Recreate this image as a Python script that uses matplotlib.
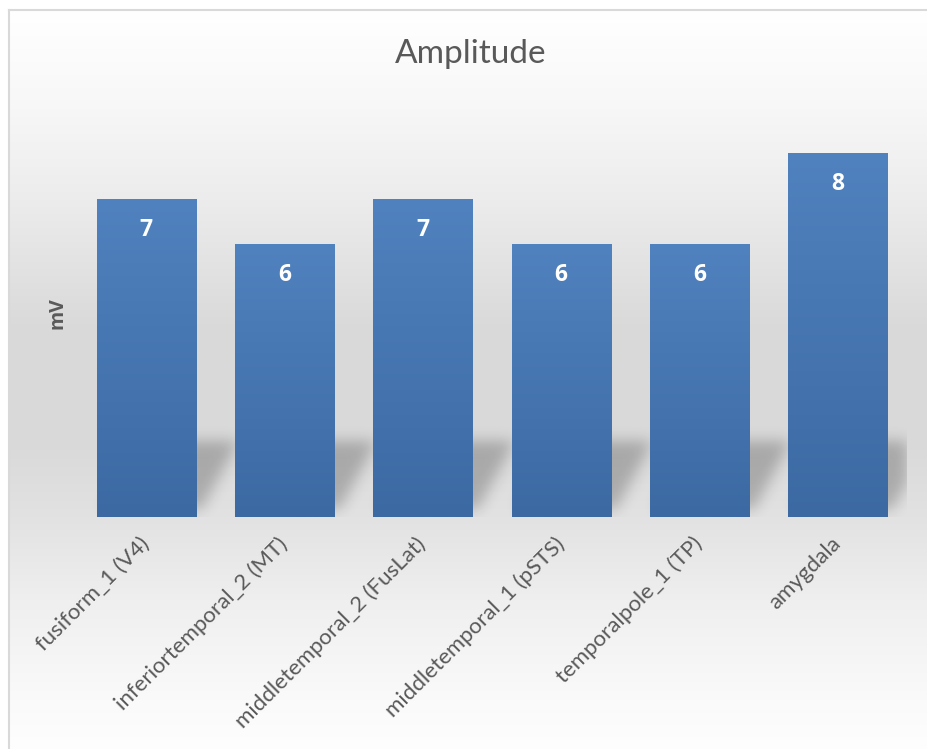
import numpy as np
import matplotlib
matplotlib.use("Agg")
import matplotlib.pyplot as plt
from matplotlib.path import Path

# amplitude per region (mV)
regions = ["fusiform_1 (V4)", "inferiortemporal_2 (MT)", "middletemporal_2 (FusLat)",
           "middletemporal_1 (pSTS)", "temporalpole_1 (TP)", "amygdala"]
amplitude = [7, 6, 7, 6, 6, 8]

FONT = "Lato"
BOLD_FONT = "Open Sans"
TXT = "#595959"
W, H = 927, 749
BAR_W = 0.716
YMAX = 9

fig = plt.figure(figsize=(W / 100, H / 100), dpi=100)

# chart area background: vertical grey gradient inside a thin frame
bg = fig.add_axes([0, 0, 1, 1])
bg.set_axis_off()
rows = np.arange(H)
stops_y = [10, 100, 200, 330, 450, 517, 600, 700, 749]
stops_v = [255, 248, 236, 217, 218, 226, 239, 250, 254]
shade = np.interp(rows, stops_y, stops_v) / 255.0
grad = np.repeat(shade[:, None, None], 3, axis=2)
bg.imshow(grad, extent=[9, W, H, 0], aspect="auto", interpolation="bilinear")
bg.plot([9, 9], [H, 10], color="#d9d9d9", lw=1.5)
bg.plot([9, W], [10, 10], color="#d9d9d9", lw=1.5)
bg.set_xlim(0, W)
bg.set_ylim(H, 0)

left, right, base = 77, 907, 517
px_per_unit = 45.4
top = base - YMAX * px_per_unit
ax = fig.add_axes([left / W, (H - base) / H, (right - left) / W, (base - top) / H])
ax.set_facecolor("none")
x = np.arange(len(regions))

# soft perspective shadow behind the bars
xpx = (right - left) / len(regions)
nx, ny = right - left, 120
gx = np.linspace(-0.5, 5.5, nx)
gy = np.linspace(0, ny / px_per_unit, ny)
GX, GY = np.meshgrid(gx, gy)
pts = np.column_stack([GX.ravel(), GY.ravel()])
mask = np.zeros(GX.shape)
for xi in x:
    x0, x1 = xi - BAR_W / 2, xi + BAR_W / 2
    yb, yt = 8 / px_per_unit, 76 / px_per_unit
    sb, st = 6 / xpx, 42 / xpx
    poly = Path([(x0 + sb, yb), (x1 + sb, yb), (x1 + st, yt), (x0 + st, yt)])
    mask = np.maximum(mask, poly.contains_points(pts).reshape(GX.shape))
k = np.arange(-24, 25)
kern = np.exp(-k ** 2 / (2 * 7.0 ** 2))
kern /= kern.sum()
mask = np.apply_along_axis(lambda r: np.convolve(r, kern, mode="same"), 1, mask)
mask = np.apply_along_axis(lambda c: np.convolve(c, kern, mode="same"), 0, mask)
shadow = np.zeros((ny, nx, 4))
shadow[..., 3] = 0.23 * mask
ax.imshow(shadow, extent=[-0.5, 5.5, 0, ny / px_per_unit], origin="lower",
          aspect="auto", zorder=1)

# bars with a top-to-bottom blue gradient
bars = ax.bar(x, amplitude, width=BAR_W, color="#4a7bb6", zorder=2)
c_top = np.array([80, 130, 191]) / 255
c_bot = np.array([60, 105, 162]) / 255
t = np.linspace(0, 1, 256)[:, None]
bar_grad = (c_top * (1 - t) + c_bot * t)[:, None, :]
for b in bars:
    ax.imshow(bar_grad, extent=[b.get_x(), b.get_x() + b.get_width(), 0, b.get_height()],
              aspect="auto", zorder=3, interpolation="bilinear")

for xi, v in zip(x, amplitude):
    ax.annotate(str(v), (xi, v), xytext=(0, -22), textcoords="offset points",
                ha="center", va="center", color="white", fontweight="bold",
                fontsize=16.5, family=BOLD_FONT, zorder=4)

ax.set_xlim(-0.5, 5.5)
ax.set_ylim(0, YMAX)
ax.set_yticks([])
ax.set_xticks(x)
ax.set_xticklabels(regions, rotation=45, ha="right", va="center",
                   rotation_mode="anchor", fontsize=16, family=FONT, color=TXT)
ax.tick_params(axis="x", length=0, pad=17)
for s in ax.spines.values():
    s.set_visible(False)

fig.text(58 / W, 1 - 313 / H, "mV", rotation=90, ha="center", va="center",
         fontsize=14, fontweight="bold", family=BOLD_FONT, color=TXT)
fig.text(471 / W, 1 - 54 / H, "Amplitude", ha="center", va="center",
         fontsize=24, family=FONT, color=TXT)

fig.savefig("out.png", dpi=100)
